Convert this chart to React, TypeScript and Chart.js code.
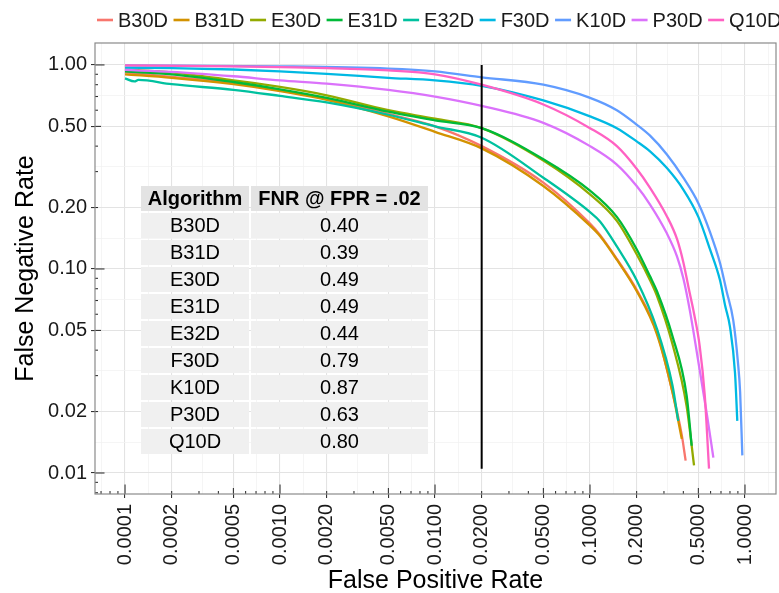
import React, { useEffect, useRef } from 'react';
import { Chart, registerables } from 'chart.js';

Chart.register(...registerables);

const FONT = '"Liberation Sans", Arial, Helvetica, sans-serif';

// ---- series data ----
const seriesNames = ['B30D', 'B31D', 'E30D', 'E31D', 'E32D', 'F30D', 'K10D', 'P30D', 'Q10D'];
const seriesColors = ['#F8766D', '#D39200', '#93AA00', '#00BA38', '#00C19F', '#00B9E3', '#619CFF', '#DB72FB', '#FF61C3'];

const b30dFpr = [0.0001, 0.0002, 0.0005, 0.001, 0.002, 0.005, 0.01, 0.02, 0.05, 0.1, 0.116, 0.149, 0.2, 0.27, 0.34, 0.39, 0.414];
const b30dFnr = [0.92, 0.875, 0.815, 0.75, 0.68, 0.575, 0.5, 0.4, 0.265, 0.167, 0.147, 0.112, 0.079, 0.049, 0.025, 0.0155, 0.0115];

const b31dFpr = [0.0001, 0.0002, 0.0005, 0.001, 0.002, 0.005, 0.01, 0.02, 0.05, 0.1, 0.116, 0.149, 0.2, 0.27, 0.34, 0.391];
const b31dFnr = [0.9, 0.865, 0.805, 0.745, 0.675, 0.56, 0.47, 0.39, 0.255, 0.163, 0.145, 0.111, 0.078, 0.048, 0.025, 0.0147];

const e30dFpr = [0.0001, 0.0002, 0.0005, 0.001, 0.002, 0.005, 0.01, 0.02, 0.05, 0.1, 0.149, 0.2, 0.244, 0.27, 0.34, 0.42, 0.469];
const e30dFnr = [0.95, 0.92, 0.84, 0.78, 0.71, 0.6, 0.545, 0.49, 0.34, 0.232, 0.172, 0.118, 0.088, 0.074, 0.043, 0.0213, 0.0109];

const e31dFpr = [0.0001, 0.0002, 0.0005, 0.001, 0.002, 0.005, 0.01, 0.02, 0.05, 0.1, 0.149, 0.2, 0.244, 0.27, 0.34, 0.42, 0.453];
const e31dFnr = [0.93, 0.9, 0.825, 0.76, 0.69, 0.59, 0.535, 0.49, 0.345, 0.242, 0.18, 0.125, 0.092, 0.078, 0.047, 0.024, 0.0136];

const e32dFpr = [0.0001, 0.000115, 0.000122, 0.0002, 0.0005, 0.001, 0.002, 0.005, 0.01, 0.02, 0.05, 0.1, 0.116, 0.149, 0.2, 0.27, 0.34, 0.371];
const e32dFnr = [0.86, 0.83, 0.845, 0.805, 0.755, 0.705, 0.655, 0.57, 0.5, 0.44, 0.28, 0.19, 0.171, 0.129, 0.088, 0.051, 0.027, 0.018];

const f30dFpr = [0.0001, 0.0002, 0.0005, 0.001, 0.002, 0.005, 0.01, 0.02, 0.05, 0.1, 0.149, 0.2, 0.244, 0.3125, 0.4, 0.5, 0.594, 0.69, 0.745, 0.8, 0.862, 0.892];
const f30dFnr = [0.97, 0.965, 0.95, 0.93, 0.905, 0.865, 0.84, 0.79, 0.67, 0.56, 0.49, 0.422, 0.377, 0.313, 0.245, 0.18, 0.125, 0.088, 0.066, 0.052, 0.031, 0.018];

const k10dFpr = [0.0001, 0.001, 0.005, 0.01, 0.02, 0.05, 0.1, 0.149, 0.2, 0.244, 0.3125, 0.4, 0.5, 0.594, 0.69, 0.76, 0.84, 0.9, 0.93, 0.961];
const k10dFnr = [0.995, 0.985, 0.96, 0.93, 0.87, 0.8, 0.69, 0.6, 0.51, 0.45, 0.365, 0.28, 0.21, 0.152, 0.107, 0.078, 0.056, 0.035, 0.025, 0.0122];

const p30dFpr = [0.0001, 0.0002, 0.0005, 0.001, 0.002, 0.005, 0.01, 0.02, 0.05, 0.1, 0.149, 0.2, 0.244, 0.3125, 0.3645, 0.4, 0.44, 0.51, 0.57, 0.625];
const p30dFnr = [0.945, 0.925, 0.88, 0.84, 0.81, 0.755, 0.7, 0.63, 0.52, 0.4, 0.325, 0.255, 0.207, 0.15, 0.115, 0.09, 0.063, 0.032, 0.019, 0.0119];

const q10dFpr = [0.0001, 0.0005, 0.001, 0.002, 0.005, 0.01, 0.02, 0.05, 0.1, 0.149, 0.2, 0.244, 0.3125, 0.3645, 0.4, 0.434, 0.47, 0.51, 0.55, 0.586];
const q10dFnr = [0.995, 0.985, 0.975, 0.965, 0.94, 0.9, 0.8, 0.64, 0.49, 0.4, 0.31, 0.25, 0.182, 0.14, 0.108, 0.08, 0.06, 0.042, 0.024, 0.0105];

const seriesFpr = [b30dFpr, b31dFpr, e30dFpr, e31dFpr, e32dFpr, f30dFpr, k10dFpr, p30dFpr, q10dFpr];
const seriesFnr = [b30dFnr, b31dFnr, e30dFnr, e31dFnr, e32dFnr, f30dFnr, k10dFnr, p30dFnr, q10dFnr];

// cut-off marker
const fprCutoff = 0.02;
const cutoffLineFnr = [0.0105, 1.0];

// axis ticks
const xTickValues = [0.0001, 0.0002, 0.0005, 0.001, 0.002, 0.005, 0.01, 0.02, 0.05, 0.1, 0.2, 0.5, 1];
const yTickValues = [0.01, 0.02, 0.05, 0.1, 0.2, 0.5, 1];
const xRange = [6.4e-5, 1.585];
const yRange = [0.00789, 1.281];

// inset table
const tableHeader = ['Algorithm', 'FNR @ FPR = .02'];
const tableAlgorithms = ['B30D', 'B31D', 'E30D', 'E31D', 'E32D', 'F30D', 'K10D', 'P30D', 'Q10D'];
const tableFnr = [0.4, 0.39, 0.49, 0.49, 0.44, 0.79, 0.87, 0.63, 0.8];

// ---- helpers ----
function isMajor(list: number[], v: number | undefined) {
  if (v === undefined || v === null) return false;
  return list.some((t) => Math.abs(Math.log10(t) - Math.log10(v)) < 1e-6);
}

function withMinor(major: number[], lo: number, hi: number) {
  const logs = major.map((m) => Math.log10(m));
  const bd = logs[1] - logs[0];
  const ext = [logs[0] - bd, ...logs, logs[logs.length - 1] + bd];
  const out: number[] = [];
  for (let i = 0; i < ext.length - 1; i++) {
    out.push(Math.pow(10, (ext[i] + ext[i + 1]) / 2));
  }
  return [...major, ...out].filter((v) => v >= lo && v <= hi).sort((a, b) => a - b);
}

const decorPlugin = {
  id: 'decor',
  afterDatasetsDraw(chart: any) {
    const { ctx, chartArea: a, scales } = chart;
    const xs = scales.x;
    const ys = scales.y;
    ctx.save();
    ctx.strokeStyle = '#222';
    ctx.lineWidth = 1;
    for (let k = -6; k <= 1; k++) {
      for (let d = 1; d <= 9; d++) {
        const v = d * Math.pow(10, k);
        const len = d === 1 ? 9.5 : d === 5 ? 6 : 3;
        if (v >= xs.min && v <= xs.max) {
          const px = xs.getPixelForValue(v);
          ctx.beginPath();
          ctx.moveTo(px, a.bottom);
          ctx.lineTo(px, a.bottom - len);
          ctx.stroke();
        }
        if (v >= ys.min && v <= ys.max) {
          const py = ys.getPixelForValue(v);
          ctx.beginPath();
          ctx.moveTo(a.left, py);
          ctx.lineTo(a.left + len, py);
          ctx.stroke();
        }
      }
    }
    ctx.strokeStyle = '#8a8a8a';
    ctx.lineWidth = 1.2;
    ctx.strokeRect(a.left, a.top, a.right - a.left, a.bottom - a.top);
    ctx.restore();
  },
  afterDraw(chart: any) {
    const { ctx } = chart;
    ctx.save();
    ctx.font = `20px ${FONT}`;
    ctx.textAlign = 'left';
    ctx.textBaseline = 'alphabetic';
    let x0 = 97;
    seriesNames.forEach((name, i) => {
      ctx.strokeStyle = seriesColors[i];
      ctx.lineWidth = 2.6;
      ctx.beginPath();
      ctx.moveTo(x0, 20);
      ctx.lineTo(x0 + 16, 20);
      ctx.stroke();
      ctx.fillStyle = '#1a1a1a';
      ctx.fillText(name, x0 + 21, 27);
      x0 += 21 + ctx.measureText(name).width + 5.5;
    });
    ctx.restore();
  },
};

export default function App() {
  const canvasRef = useRef<HTMLCanvasElement | null>(null);

  useEffect(() => {
    const canvas = canvasRef.current;
    if (!canvas) return;
    Chart.defaults.font.family = FONT;

    const datasets: any[] = seriesNames.map((name, i) => ({
      label: name,
      data: seriesFpr[i].map((x, j) => ({ x, y: seriesFnr[i][j] })),
      borderColor: seriesColors[i],
      backgroundColor: seriesColors[i],
      borderWidth: 2.3,
      pointRadius: 0,
      cubicInterpolationMode: 'monotone',
      fill: false,
      order: seriesNames.length - i,
    }));
    datasets.push({
      label: 'cutoff',
      data: cutoffLineFnr.map((y) => ({ x: fprCutoff, y })),
      borderColor: '#000000',
      borderWidth: 2,
      pointRadius: 0,
      tension: 0,
      fill: false,
      order: 0,
    });

    const xAll = withMinor(xTickValues, xRange[0], xRange[1]);
    const yAll = withMinor(yTickValues, yRange[0], yRange[1]);

    const chart = new Chart(canvas, {
      type: 'line',
      data: { datasets },
      plugins: [decorPlugin],
      options: {
        animation: false,
        responsive: false,
        maintainAspectRatio: false,
        layout: { padding: { top: 43, right: 3, left: 0, bottom: 0 } },
        plugins: {
          legend: { display: false },
          tooltip: { enabled: false },
        },
        scales: {
          x: {
            type: 'logarithmic',
            min: xRange[0],
            max: xRange[1],
            afterBuildTicks: (s: any) => {
              s.ticks = xAll.map((v) => ({ value: v }));
            },
            afterFit: (s: any) => {
              s.height = 99;
              s.paddingLeft = 0;
              s.paddingRight = 0;
            },
            ticks: {
              autoSkip: false,
              maxRotation: 90,
              minRotation: 90,
              padding: 6,
              color: '#1a1a1a',
              font: { size: 20, family: FONT },
              callback: (value: any) => {
                const v = Number(value);
                return isMajor(xTickValues, v) ? v.toFixed(4) : '';
              },
            },
            grid: {
              color: (c: any) => (isMajor(xTickValues, c.tick?.value) ? '#e3e3e3' : '#f2f2f2'),
              lineWidth: (c: any) => (isMajor(xTickValues, c.tick?.value) ? 1.1 : 0.8),
              tickColor: (c: any) => (isMajor(xTickValues, c.tick?.value) ? '#333333' : 'rgba(0,0,0,0)'),
              tickLength: 4,
              drawTicks: true,
            },
            border: { display: false },
            title: {
              display: true,
              text: 'False Positive Rate',
              color: '#000000',
              font: { size: 25, family: FONT },
              padding: { top: 0, bottom: -3 },
            },
          },
          y: {
            type: 'logarithmic',
            min: yRange[0],
            max: yRange[1],
            afterBuildTicks: (s: any) => {
              s.ticks = yAll.map((v) => ({ value: v }));
            },
            afterFit: (s: any) => {
              s.width = 95;
              s.paddingTop = 0;
              s.paddingBottom = 0;
            },
            ticks: {
              autoSkip: false,
              padding: 4,
              color: '#1a1a1a',
              font: { size: 20, family: FONT },
              callback: (value: any) => {
                const v = Number(value);
                return isMajor(yTickValues, v) ? v.toFixed(2) : '';
              },
            },
            grid: {
              color: (c: any) => (isMajor(yTickValues, c.tick?.value) ? '#e3e3e3' : '#f2f2f2'),
              lineWidth: (c: any) => (isMajor(yTickValues, c.tick?.value) ? 1.1 : 0.8),
              tickColor: (c: any) => (isMajor(yTickValues, c.tick?.value) ? '#333333' : 'rgba(0,0,0,0)'),
              tickLength: 4,
              drawTicks: true,
            },
            border: { display: false },
            title: {
              display: true,
              text: 'False Negative Rate',
              color: '#000000',
              font: { size: 25, family: FONT },
              padding: { top: 11, bottom: 0 },
            },
          },
        },
      },
    });

    return () => chart.destroy();
  }, []);

  const cellBase: React.CSSProperties = {
    height: 25,
    lineHeight: '25px',
    textAlign: 'center',
    color: '#000',
    whiteSpace: 'nowrap',
  };

  return (
    <div style={{ position: 'fixed', left: 0, top: 0, width: 779, height: 593, background: '#fff' }}>
      <canvas ref={canvasRef} width={779} height={593} style={{ display: 'block', width: 779, height: 593 }} />
      <div
        style={{
          position: 'absolute',
          left: 141,
          top: 186,
          display: 'grid',
          gridTemplateColumns: '108px 177px',
          columnGap: 2,
          rowGap: 2,
          fontFamily: FONT,
          fontSize: 20,
        }}
      >
        {tableHeader.map((h) => (
          <div key={h} style={{ ...cellBase, background: '#e3e3e3', fontWeight: 'bold' }}>
            {h}
          </div>
        ))}
        {tableAlgorithms.map((alg, i) => (
          <React.Fragment key={alg}>
            <div style={{ ...cellBase, background: '#f0f0f0' }}>{alg}</div>
            <div style={{ ...cellBase, background: '#f0f0f0' }}>{tableFnr[i].toFixed(2)}</div>
          </React.Fragment>
        ))}
      </div>
    </div>
  );
}
